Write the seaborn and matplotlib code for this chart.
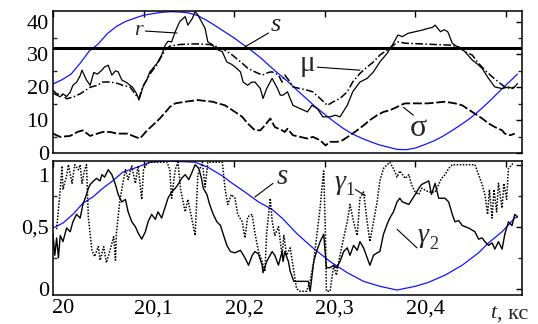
import matplotlib
matplotlib.use("Agg")
import matplotlib.pyplot as plt
import matplotlib.transforms as mtransforms
from matplotlib.ticker import MultipleLocator, FixedLocator, FixedFormatter
import seaborn as sns

# ---- top panel: s (blue), r (solid), mu (dash-dot), sigma (dashed), threshold ----
s_t = [20.00, 20.01, 20.02, 20.03, 20.04, 20.05, 20.06, 20.07, 20.08, 20.09,
       20.10, 20.11, 20.12, 20.13, 20.14, 20.15, 20.16, 20.17, 20.18, 20.19,
       20.20, 20.21, 20.22, 20.23, 20.24, 20.25, 20.26, 20.27, 20.28, 20.29,
       20.30, 20.31, 20.32, 20.33, 20.34, 20.35, 20.36, 20.37, 20.38, 20.39,
       20.40, 20.41, 20.42, 20.43, 20.44, 20.45, 20.46, 20.47, 20.48, 20.49,
       20.50, 20.51, 20.513]
s_top = [21.0, 22.3, 24.0, 27.3, 31.0, 33.2, 36.3, 38.5, 40.0, 41.0,
         41.9, 42.4, 42.8, 43.0, 42.9, 42.6, 41.8, 40.3, 38.6, 36.8,
         35.0, 33.0, 31.0, 28.8, 26.3, 23.9, 21.6, 19.0, 16.5, 14.0,
         11.8, 9.6, 7.6, 5.9, 4.6, 3.5, 2.5, 1.8, 1.1, 1.0,
         1.5, 2.5, 3.6, 5.0, 6.7, 8.5, 10.4, 12.7, 15.2, 17.9,
         20.6, 23.2, 24.0]

r_t = [20.000, 20.004, 20.008, 20.011, 20.015, 20.019, 20.022, 20.026, 20.030, 20.032,
       20.037, 20.041, 20.045, 20.049, 20.054, 20.057, 20.061, 20.065, 20.069, 20.072,
       20.076, 20.081, 20.085, 20.088, 20.092, 20.095, 20.100, 20.104, 20.107, 20.111,
       20.115, 20.120, 20.124, 20.127, 20.131, 20.135, 20.140, 20.146, 20.149, 20.154,
       20.157, 20.160, 20.162, 20.168, 20.171, 20.176, 20.179, 20.187, 20.192, 20.197,
       20.201, 20.207, 20.210, 20.215, 20.219, 20.223, 20.229, 20.232, 20.236, 20.242,
       20.248, 20.251, 20.254, 20.259, 20.265, 20.273, 20.281, 20.286, 20.292, 20.298,
       20.306, 20.312, 20.317, 20.325, 20.331, 20.339, 20.347, 20.354, 20.361, 20.369,
       20.376, 20.381, 20.386, 20.392, 20.400, 20.408, 20.414, 20.419, 20.422, 20.428,
       20.432, 20.436, 20.441, 20.446, 20.451, 20.455, 20.463, 20.469, 20.474, 20.481,
       20.488, 20.496, 20.503, 20.508, 20.513]
r_val = [18.2, 17.6, 17.1, 18.0, 17.2, 18.5, 20.6, 21.5, 23.5, 25.2,
         22.2, 20.6, 24.5, 24.0, 25.2, 26.2, 26.7, 23.7, 25.0, 24.7,
         22.2, 21.5, 20.6, 20.0, 18.2, 16.1, 20.6, 22.5, 24.7, 26.0,
         27.3, 29.8, 32.8, 34.0, 33.8, 36.9, 40.0, 41.5, 38.9, 41.0,
         43.0, 42.0, 41.0, 37.9, 33.8, 33.0, 31.8, 30.8, 27.7, 27.0,
         26.2, 24.7, 21.6, 20.6, 21.5, 21.6, 19.6, 16.6, 19.6, 22.7,
         19.6, 17.6, 17.6, 18.6, 14.5, 13.5, 12.5, 14.5, 13.5, 11.0,
         11.0, 11.5, 11.0, 14.5, 18.6, 21.6, 22.7, 24.7, 27.7, 30.3,
         33.4, 35.9, 35.4, 36.4, 36.9, 37.4, 37.9, 38.2, 38.9, 36.9,
         37.5, 36.9, 33.4, 32.4, 31.8, 30.8, 28.3, 27.0, 25.7, 22.7,
         20.1, 19.6, 20.1, 19.6, 21.1]

mu_t = [20.000, 20.004, 20.011, 20.015, 20.022, 20.030, 20.041, 20.049, 20.055, 20.063,
        20.071, 20.077, 20.085, 20.093, 20.095, 20.099, 20.107, 20.115, 20.120, 20.124,
        20.129, 20.140, 20.157, 20.173, 20.179, 20.187, 20.198, 20.209, 20.215, 20.223,
        20.231, 20.238, 20.242, 20.249, 20.253, 20.256, 20.262, 20.265, 20.273, 20.281,
        20.287, 20.295, 20.303, 20.309, 20.317, 20.325, 20.331, 20.339, 20.347, 20.354,
        20.361, 20.369, 20.376, 20.381, 20.389, 20.406, 20.422, 20.439, 20.448, 20.455,
        20.463, 20.470, 20.477, 20.485, 20.492, 20.499, 20.505, 20.510]
mu_val = [19.1, 18.0, 17.6, 16.5, 17.0, 18.0, 20.0, 20.6, 21.6, 21.6,
          21.2, 20.6, 20.1, 17.1, 16.6, 20.0, 24.0, 27.0, 29.5, 31.5,
          32.5, 33.0, 33.2, 33.0, 32.5, 31.8, 29.8, 27.3, 25.8, 24.7,
          23.7, 24.5, 24.7, 23.7, 21.6, 23.7, 21.6, 20.1, 19.6, 19.1,
          18.6, 16.6, 14.5, 15.5, 16.6, 18.6, 21.6, 24.2, 26.2, 27.7,
          29.8, 31.3, 32.8, 33.8, 33.4, 33.2, 33.0, 32.8, 32.3, 30.8,
          29.8, 27.3, 25.2, 23.2, 21.6, 20.1, 19.6, 20.1]

sig_t = [20.000, 20.008, 20.019, 20.027, 20.033, 20.041, 20.049, 20.055, 20.063, 20.071,
         20.082, 20.091, 20.096, 20.104, 20.110, 20.118, 20.126, 20.129, 20.135, 20.146,
         20.160, 20.176, 20.190, 20.201, 20.209, 20.215, 20.223, 20.229, 20.234, 20.240,
         20.245, 20.253, 20.256, 20.259, 20.265, 20.273, 20.281, 20.287, 20.295, 20.301,
         20.306, 20.314, 20.320, 20.328, 20.336, 20.343, 20.350, 20.358, 20.365, 20.372,
         20.380, 20.383, 20.389, 20.400, 20.414, 20.433, 20.444, 20.452, 20.463, 20.474,
         20.481, 20.488, 20.496, 20.499, 20.505, 20.510]
sig_val = [5.9, 4.9, 5.2, 6.4, 6.9, 5.2, 5.9, 6.4, 6.4, 5.9,
           5.9, 4.9, 4.4, 6.9, 8.4, 10.5, 13.0, 14.0, 15.1, 15.6,
           16.1, 15.6, 14.5, 12.5, 11.0, 9.0, 6.9, 6.9, 8.4, 10.5,
           7.9, 6.9, 6.4, 7.4, 5.4, 4.9, 4.4, 4.9, 3.9, 2.3,
           3.4, 3.4, 3.9, 5.4, 6.9, 8.4, 10.0, 11.5, 12.5, 13.0,
           14.0, 14.5, 15.1, 15.1, 15.1, 15.6, 15.1, 14.5, 12.5, 10.5,
           9.0, 7.9, 6.9, 5.9, 5.4, 5.9]

threshold = 31.8

# ---- bottom panel: s (blue), gamma1 (dotted), gamma2 (solid) ----
sb_t = [20.000, 20.011, 20.022, 20.033, 20.044, 20.055, 20.066, 20.077, 20.093, 20.107,
        20.124, 20.157, 20.171, 20.187, 20.198, 20.212, 20.227, 20.242, 20.253, 20.270,
        20.287, 20.306, 20.325, 20.343, 20.361, 20.380, 20.400, 20.414, 20.433, 20.452,
        20.470, 20.481, 20.496, 20.510, 20.513]
sb_val = [0.49, 0.53, 0.60, 0.69, 0.74, 0.81, 0.87, 0.94, 0.98, 1.02,
          1.03, 1.02, 0.98, 0.91, 0.85, 0.78, 0.70, 0.64, 0.57, 0.44,
          0.33, 0.22, 0.13, 0.06, 0.02, -0.01, 0.02, 0.05, 0.11, 0.19,
          0.29, 0.37, 0.46, 0.57, 0.58]

g1_t = [20.004, 20.008, 20.010, 20.011, 20.015, 20.017, 20.021, 20.024, 20.028, 20.030,
        20.032, 20.035, 20.037, 20.039, 20.043, 20.046, 20.050, 20.052, 20.056, 20.059,
        20.063, 20.067, 20.069, 20.070, 20.074, 20.080, 20.083, 20.087, 20.091, 20.094,
        20.098, 20.100, 20.104, 20.107, 20.118, 20.126, 20.129, 20.131, 20.135, 20.138,
        20.141, 20.146, 20.149, 20.154, 20.157, 20.160, 20.165, 20.168, 20.171, 20.187,
        20.190, 20.193, 20.197, 20.201, 20.204, 20.209, 20.212, 20.215, 20.220, 20.223,
        20.227, 20.231, 20.234, 20.236, 20.240, 20.242, 20.245, 20.249, 20.253, 20.255,
        20.258, 20.262, 20.266, 20.269, 20.273, 20.280, 20.284, 20.288, 20.291, 20.295,
        20.297, 20.299, 20.301, 20.302, 20.306, 20.310, 20.313, 20.317, 20.321, 20.325,
        20.328, 20.332, 20.336, 20.339, 20.343, 20.347, 20.350, 20.354, 20.358, 20.361,
        20.365, 20.369, 20.372, 20.376, 20.380, 20.383, 20.389, 20.393, 20.396, 20.400,
        20.404, 20.407, 20.415, 20.422, 20.426, 20.429, 20.433, 20.437, 20.441, 20.466,
        20.470, 20.474, 20.477, 20.480, 20.482, 20.485, 20.487, 20.490, 20.492, 20.496,
        20.498, 20.501, 20.503, 20.507, 20.508]
g1_val = [0.48, 0.80, 0.99, 0.80, 0.91, 1.00, 0.85, 1.00, 0.96, 1.00,
          0.85, 0.96, 1.00, 0.58, 0.31, 0.26, 0.34, 0.23, 0.34, 0.21,
          0.31, 0.42, 0.23, 0.45, 0.72, 0.96, 0.88, 0.99, 0.85, 0.99,
          0.72, 0.96, 1.01, 1.02, 1.02, 1.02, 0.96, 0.73, 0.96, 1.02,
          0.80, 0.62, 0.72, 0.54, 0.43, 0.92, 1.02, 0.82, 1.02, 1.02,
          0.81, 0.68, 0.76, 0.73, 0.60, 0.54, 0.41, 0.58, 0.60, 0.45,
          0.30, 0.22, 0.14, 0.45, 0.73, 0.55, 0.43, 0.50, 0.27, 0.43,
          0.27, 0.33, 0.14, 0.00, -0.02, -0.02, 0.06, 0.22, 0.41, 0.65,
          0.81, 0.95, 0.41, -0.02, -0.02, 0.19, 0.11, 0.27, 0.41, 0.54,
          0.68, 0.54, 0.43, 0.73, 0.78, 0.54, 0.38, 0.54, 0.70, 0.87,
          0.97, 1.00, 1.02, 0.97, 0.90, 0.95, 0.89, 0.92, 0.84, 0.78,
          0.76, 0.81, 0.78, 0.78, 0.84, 0.89, 0.92, 0.97, 1.00, 1.00,
          0.92, 0.84, 0.76, 0.60, 0.80, 0.57, 0.80, 0.62, 0.85, 0.65,
          0.85, 0.72, 0.97, 1.00, 1.02]

g2_t = [20.000, 20.002, 20.004, 20.006, 20.008, 20.011, 20.015, 20.019, 20.022, 20.026,
        20.030, 20.033, 20.037, 20.039, 20.041, 20.045, 20.048, 20.052, 20.054, 20.057,
        20.061, 20.065, 20.069, 20.072, 20.076, 20.080, 20.083, 20.087, 20.091, 20.094,
        20.098, 20.102, 20.105, 20.109, 20.113, 20.116, 20.120, 20.124, 20.127, 20.131,
        20.135, 20.138, 20.142, 20.146, 20.150, 20.153, 20.157, 20.161, 20.164, 20.166,
        20.170, 20.173, 20.177, 20.181, 20.185, 20.188, 20.192, 20.196, 20.201, 20.207,
        20.212, 20.216, 20.220, 20.223, 20.227, 20.231, 20.232, 20.236, 20.242, 20.245,
        20.249, 20.253, 20.254, 20.256, 20.260, 20.262, 20.266, 20.269, 20.277, 20.282,
        20.284, 20.288, 20.291, 20.295, 20.299, 20.302, 20.306, 20.310, 20.313, 20.317,
        20.321, 20.325, 20.328, 20.332, 20.336, 20.339, 20.343, 20.347, 20.350, 20.354,
        20.358, 20.361, 20.365, 20.369, 20.372, 20.376, 20.380, 20.383, 20.386, 20.393,
        20.400, 20.404, 20.407, 20.415, 20.418, 20.422, 20.426, 20.433, 20.437, 20.441,
        20.444, 20.448, 20.452, 20.459, 20.466, 20.470, 20.474, 20.477, 20.481, 20.485,
        20.488, 20.492, 20.496, 20.499, 20.503, 20.507, 20.510, 20.513]
g2_val = [0.44, 0.27, 0.41, 0.25, 0.43, 0.38, 0.49, 0.46, 0.54, 0.60,
          0.57, 0.68, 0.76, 0.81, 0.84, 0.87, 0.89, 0.87, 0.92, 0.90,
          0.96, 0.92, 0.84, 0.76, 0.70, 0.72, 0.62, 0.54, 0.50, 0.45,
          0.40, 0.46, 0.54, 0.60, 0.56, 0.62, 0.57, 0.66, 0.73, 0.78,
          0.81, 0.84, 0.89, 0.92, 0.88, 0.93, 1.00, 0.97, 0.89, 0.81,
          0.76, 0.68, 0.60, 0.54, 0.51, 0.44, 0.35, 0.30, 0.29, 0.31,
          0.25, 0.19, 0.27, 0.30, 0.28, 0.19, 0.13, 0.22, 0.30, 0.27,
          0.19, 0.30, 0.22, 0.30, 0.22, 0.14, 0.06, 0.06, 0.06, 0.06,
          -0.02, 0.22, 0.30, 0.38, 0.44, 0.17, 0.17, 0.19, 0.17, 0.22,
          0.30, 0.33, 0.27, 0.35, 0.31, 0.38, 0.33, 0.25, 0.19, 0.27,
          0.29, 0.30, 0.44, 0.52, 0.57, 0.62, 0.70, 0.73, 0.70, 0.68,
          0.76, 0.81, 0.84, 0.87, 0.76, 0.85, 0.73, 0.73, 0.70, 0.60,
          0.54, 0.55, 0.51, 0.49, 0.46, 0.40, 0.41, 0.38, 0.35, 0.37,
          0.32, 0.38, 0.32, 0.44, 0.54, 0.51, 0.60, 0.58]

x_ticks = [20.0, 20.1, 20.2, 20.3, 20.4, 20.5]
x_tick_labels = ["20", "20,1", "20,2", "20,3", "20,4", ""]
top_y_ticks = [0, 10, 20, 30, 40]
bot_y_ticks = [0, 0.5, 1]
bot_y_labels = ["0", "0,5", "1"]

sns.set_theme(style="white")
plt.rcParams["font.family"] = "serif"
plt.rcParams["font.serif"] = ["Liberation Serif", "DejaVu Serif"]
plt.rcParams["axes.linewidth"] = 1.1

BLUE = "#1414ff"
W, H = 538, 324
fig = plt.figure(figsize=(W / 100, H / 100), dpi=100)
ax1 = fig.add_axes([53 / W, 1 - 153 / H, 469 / W, 142 / H])
ax2 = fig.add_axes([53 / W, 1 - 295 / H, 469 / W, 134 / H])


def line(ax, t, v, **kw):
    sns.lineplot(x=t, y=v, ax=ax, estimator=None, sort=False, legend=False, **kw)


# top panel
line(ax1, s_t, s_top, color=BLUE, lw=0.9)
line(ax1, r_t, r_val, color="black", lw=0.9)
line(ax1, mu_t, mu_val, color="black", lw=1.1, dashes=(5, 1.6, 1, 1.6))
line(ax1, sig_t, sig_val, color="black", lw=1.3, dashes=(5, 1.5))
ax1.axhline(threshold, color="black", lw=2.2)

# bottom panel
line(ax2, sb_t, sb_val, color=BLUE, lw=0.9)
line(ax2, g1_t, g1_val, color="black", lw=1.1, dashes=(1, 1))
line(ax2, g2_t, g2_val, color="black", lw=1.0)

for ax in (ax1, ax2):
    ax.set_xlim(20.0, 20.518)
    ax.xaxis.set_major_locator(FixedLocator(x_ticks))
    ax.tick_params(direction="in", length=4, width=1, top=True, right=True,
                   labelsize=16, colors="black", pad=3)
    ax.tick_params(which="minor", direction="in", length=3, width=1, left=True, right=True)
    ax.set_xlabel("")
    ax.set_ylabel("")
    for sp in ax.spines.values():
        sp.set_color("black")
        sp.set_visible(True)

ax1.set_ylim(0, 43.2)
ax1.yaxis.set_major_locator(FixedLocator(top_y_ticks))
ax1.yaxis.set_minor_locator(MultipleLocator(5))
ax1.set_xticklabels([])

ax2.set_ylim(-0.05, 1.03)
ax2.yaxis.set_major_locator(FixedLocator(bot_y_ticks))
ax2.yaxis.set_major_formatter(FixedFormatter(bot_y_labels))
ax2.yaxis.set_minor_locator(MultipleLocator(0.25))
ax2.set_xticklabels(x_tick_labels)

shift = mtransforms.ScaledTranslation(0.10, 0, fig.dpi_scale_trans)
for lab in ax2.get_xticklabels():
    lab.set_transform(lab.get_transform() + shift)
down = mtransforms.ScaledTranslation(0, -0.10, fig.dpi_scale_trans)
ax2.get_yticklabels()[-1].set_transform(ax2.get_yticklabels()[-1].get_transform() + down)

# annotations (top)
lk = dict(color="black", lw=0.8)
ax1.text(20.094, 37.4, "r", fontsize=16, style="italic", ha="center", va="center")
ax1.plot([20.102, 20.137], [37.1, 36.5], **lk)
ax1.text(20.246, 38.9, "s", fontsize=19, style="italic", ha="center", va="center")
ax1.plot([20.238, 20.212], [36.5, 32.3], **lk)
ax1.text(20.281, 27.0, "μ", fontsize=21, ha="center", va="center")
ax1.plot([20.292, 20.339], [26.1, 25.2], **lk)
ax1.text(20.403, 7.6, "σ", fontsize=23, ha="center", va="center")
ax1.plot([20.398, 20.387], [11.5, 13.9], **lk)

# annotations (bottom)
ax2.text(20.253, 0.90, "s", fontsize=21, style="italic", ha="center", va="center")
ax2.plot([20.243, 20.223], [0.85, 0.74], **lk)
ax2.text(20.317, 0.86, "γ", fontsize=20, style="italic", ha="center", va="center")
ax2.text(20.328, 0.79, "1", fontsize=13, ha="center", va="center")
ax2.plot([20.334, 20.345], [0.80, 0.75], **lk)
ax2.text(20.409, 0.43, "γ", fontsize=20, style="italic", ha="center", va="center")
ax2.text(20.420, 0.36, "2", fontsize=13, ha="center", va="center")
ax2.plot([20.402, 20.380], [0.33, 0.48], **lk)

fig.text(493 / W, 1 - 314 / H, "t", fontsize=16, style="italic", ha="center", va="center")
fig.text(497 / W, 1 - 314 / H, ", кс", fontsize=16, ha="left", va="center")

fig.savefig("out.png", dpi=100, facecolor="white")
